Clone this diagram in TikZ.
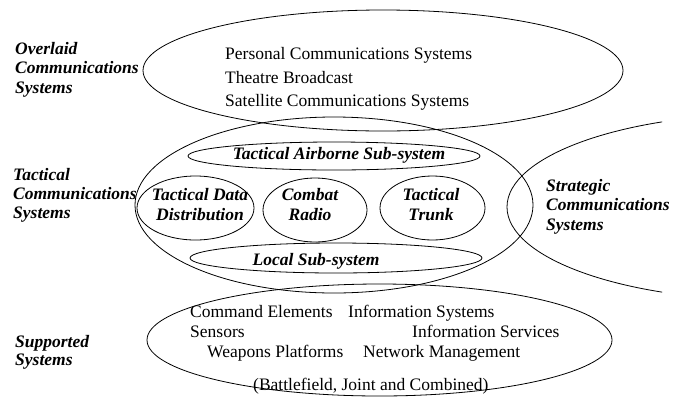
\documentclass[tikz,border=0pt]{standalone}
\usepackage{fontspec}
\setmainfont{Liberation Serif}
\begin{document}
\begin{tikzpicture}[x=1pt,y=-1pt,
  ell/.style={draw=black,line width=0.8pt},
  txt/.style={inner sep=0pt,font=\fontsize{17.5}{19}\selectfont},
  lab/.style={inner sep=0pt,font=\fontsize{17.5}{19}\selectfont\bfseries\itshape},
]
\useasboundingbox (0,0) rectangle (682,397);
% ellipses
\draw[ell] (383,70.5) ellipse [x radius=240, y radius=60.5];
\draw[ell] (334,205) ellipse [x radius=199, y radius=88];
\draw[ell] (334,156) ellipse [x radius=146, y radius=14];
\draw[ell] (336,258) ellipse [x radius=146, y radius=15];
\draw[ell] (195.5,208) ellipse [x radius=58.5, y radius=32];
\draw[ell] (315,210) ellipse [x radius=52, y radius=32];
\draw[ell] (432.5,208) ellipse [x radius=52.5, y radius=32];
\draw[ell] (379.5,340) ellipse [x radius=232.5, y radius=56];
\begin{scope}
  \clip (0,0) rectangle (662,397);
  \draw[ell] (767,207) ellipse [x radius=260, y radius=93];
\end{scope}
% left labels
\node[lab,anchor=base west] (ov1) at (15,54) {Overlaid};
\node[lab,anchor=base west] (ov2) at (15,73.5) {Communications};
\node[lab,anchor=base west] (ov3) at (15,93) {Systems};
\node[lab,anchor=base west] (ta1) at (13,180) {Tactical};
\node[lab,anchor=base west] (ta2) at (13,199) {Communications};
\node[lab,anchor=base west] (ta3) at (13,218) {Systems};
\node[lab,anchor=base west] (su1) at (15,347) {Supported};
\node[lab,anchor=base west] (su2) at (15,365.5) {Systems};
\node[lab,anchor=base west] (st1) at (546,191) {Strategic};
\node[lab,anchor=base west] (st2) at (546,210.5) {Communications};
\node[lab,anchor=base west] (st3) at (546,230) {Systems};
% overlaid contents
\node[txt,anchor=base west] (pcs) at (225,59) {Personal Communications Systems};
\node[txt,anchor=base west] (tb) at (225,83) {Theatre Broadcast};
\node[txt,anchor=base west] (scs) at (225,106) {Satellite Communications Systems};
% tactical contents
\node[lab,anchor=base] (tas) at (339,159) {Tactical Airborne Sub-system};
\node[lab,anchor=base] (lss) at (316,265) {Local Sub-system};
\node[lab,anchor=base] (tdd1) at (200,200) {Tactical Data};
\node[lab,anchor=base] (tdd2) at (200,220) {Distribution};
\node[lab,anchor=base] (cr1) at (310,200) {Combat};
\node[lab,anchor=base] (cr2) at (310,220) {Radio};
\node[lab,anchor=base] (tt1) at (431,200) {Tactical};
\node[lab,anchor=base] (tt2) at (431,220) {Trunk};
% supported contents
\node[txt,anchor=base west] (ce) at (190,317) {Command Elements};
\node[txt,anchor=base west] (is) at (348,317) {Information Systems};
\node[txt,anchor=base west] (se) at (190,337) {Sensors};
\node[txt,anchor=base west] (isv) at (412,337) {Information Services};
\node[txt,anchor=base west] (wp) at (207,357) {Weapons Platforms};
\node[txt,anchor=base west] (nm) at (363,357) {Network Management};
\node[txt,anchor=base west] (bjc) at (253,390) {(Battlefield, Joint and Combined)};
\end{tikzpicture}
\end{document}
